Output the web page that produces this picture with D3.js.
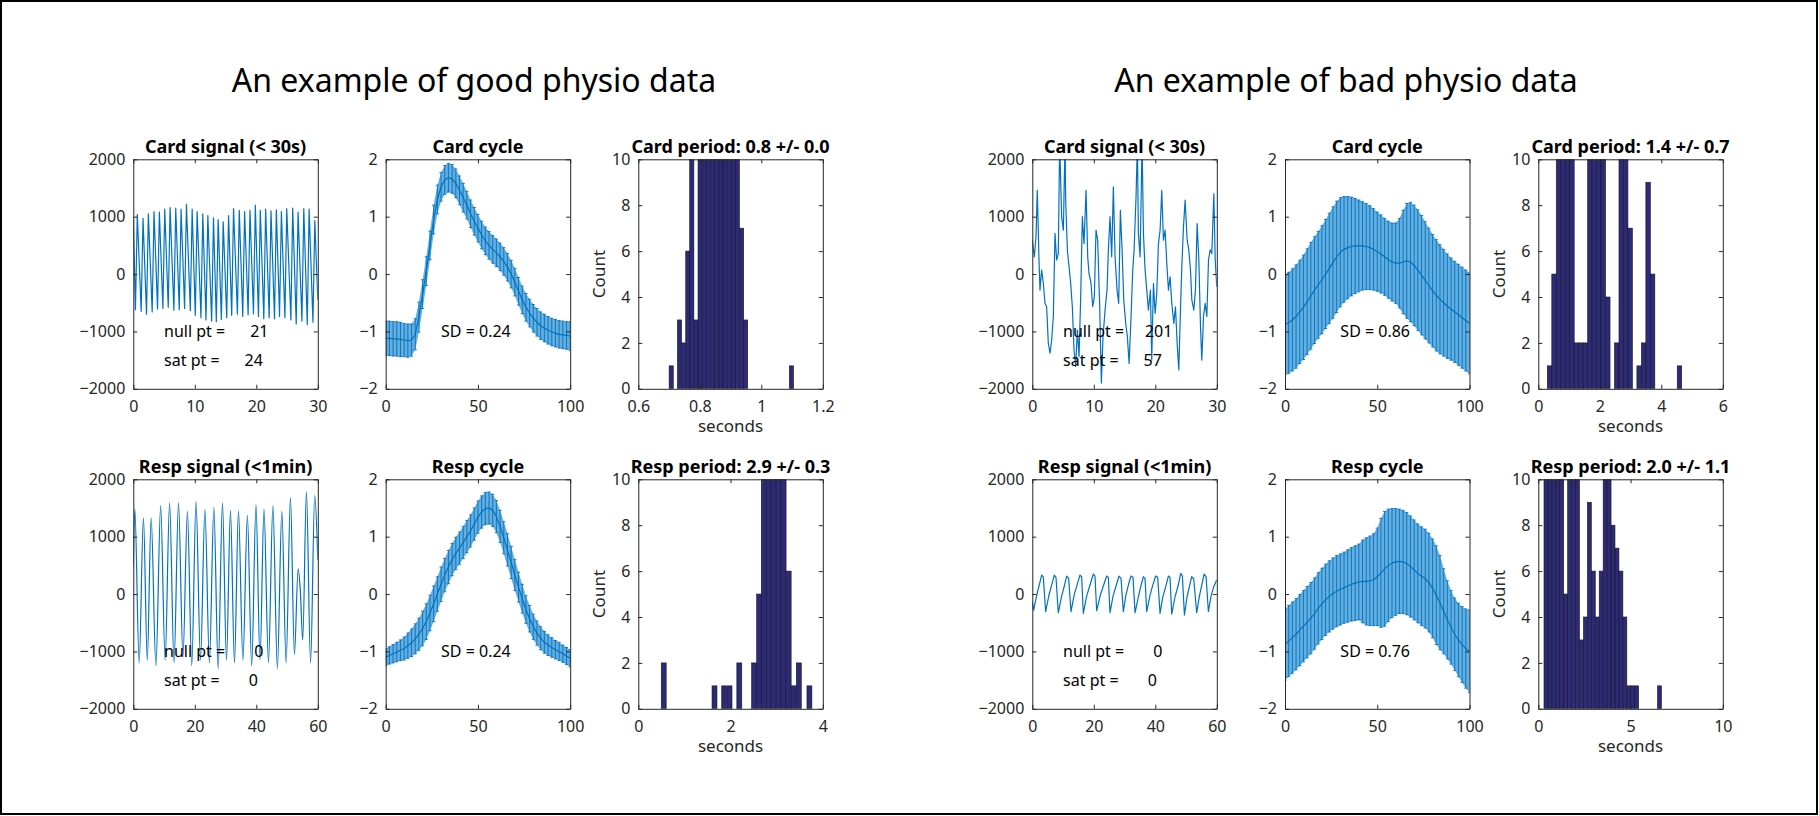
<!DOCTYPE html>
<html>
<head>
<meta charset="utf-8">
<script src="https://cdn.jsdelivr.net/npm/d3@7"></script>
<style>
  body { margin: 0; background: #fff; }
  text { font-family: "Noto Sans", sans-serif; }
</style>
</head>
<body>
<script>
// ---------- DATA ----------
// headings
var groupTitles = ["An example of good physio data", "An example of bad physio data"];
var panelTitles = {
  good: ["Card signal (< 30s)", "Card cycle", "Card period: 0.8 +/- 0.0",
         "Resp signal (<1min)", "Resp cycle", "Resp period: 2.9 +/- 0.3"],
  bad:  ["Card signal (< 30s)", "Card cycle", "Card period: 1.4 +/- 0.7",
         "Resp signal (<1min)", "Resp cycle", "Resp period: 2.0 +/- 1.1"]
};
// null / saturated point counts: [card, resp]
var goodNull = [21, 0], goodSat = [24, 0];
var badNull = [201, 0], badSat = [57, 0];
var cycleSD = { goodCard: "0.24", goodResp: "0.24", badCard: "0.86", badResp: "0.76" };

// tick values
var sigYTicks = [-2000, -1000, 0, 1000, 2000];
var cardXTicks = [0, 10, 20, 30];
var respXTicks = [0, 20, 40, 60];
var cycYTicks = [-2, -1, 0, 1, 2];
var cycXTicks = [0, 50, 100];
var histYTicks = [0, 2, 4, 6, 8, 10];
var goodCardHistTicks = [0.6, 0.8, 1, 1.2];
var goodRespHistTicks = [0, 2, 4];
var badCardHistTicks = [0, 2, 4, 6];
var badRespHistTicks = [0, 5, 10];

// raw signals: [time (s), value]
var goodCardSignal = [[0,950],[0.35,-620],[0.65,1040],[1.28,-650],[1.58,970],[2.15,-700],[2.45,1050],[3.07,-660],[3.37,1090],[3.94,-610],[4.24,1080],[4.81,-600],[5.11,1130],[5.68,-580],[5.98,1160],[6.6,-630],[6.9,1150],[7.47,-620],[7.77,1130],[8.34,-600],[8.64,1215],[9.27,-640],[9.57,1130],[10.08,-720],[10.38,1090],[11.0,-760],[11.3,1050],[11.82,-800],[12.12,1020],[12.74,-820],[13.04,980],[13.5,-830],[13.8,950],[14.32,-790],[14.62,910],[15.19,-760],[15.49,1020],[16.0,-720],[16.3,1140],[16.93,-700],[17.23,1110],[17.8,-740],[18.1,1090],[18.67,-710],[18.97,1110],[19.54,-690],[19.84,1200],[20.35,-740],[20.65,1110],[21.22,-780],[21.52,1130],[22.09,-760],[22.39,1100],[22.96,-780],[23.26,1120],[23.78,-740],[24.08,1090],[24.65,-760],[24.95,1140],[25.62,-800],[25.92,1150],[26.49,-870],[26.79,1080],[27.42,-820],[27.72,1140],[28.29,-880],[28.59,1130],[29.21,-840],[29.51,930],[30,-450]];

var goodRespSignal = [[0,480],[0.5,1480],[1.9,-1200],[3.3,1330],[4.55,-1150],[5.8,1330],[7.35,-1250],[8.9,1540],[10.35,-1150],[11.8,1590],[13.25,-1200],[14.7,1590],[16.15,-1100],[17.6,1440],[19.0,-1250],[20.4,1610],[21.85,-1150],[23.3,1470],[24.75,-1200],[26.2,1510],[27.6,-1300],[29.0,1590],[30.3,-1150],[31.6,1460],[32.9,-1200],[34.2,1450],[35.65,-1150],[37.1,1370],[38.5,-1250],[39.9,1560],[41.2,-1150],[42.5,1480],[43.95,-1200],[45.4,1540],[46.85,-1300],[48.3,1440],[49.7,-1200],[51.1,1680],[52.4,-1050],[53.6,440],[54.3,80],[55.1,-800],[56.3,1780],[57.65,-1200],[59.0,1720],[60,600]];

var badCardSignal = [[0,590],[0.33,300],[0.6,650],[0.81,1460],[1.09,245],[1.25,-280],[1.52,70],[1.79,-160],[2.06,-510],[2.33,-570],[2.6,-1200],[2.88,-1380],[3.15,-1150],[3.42,-740],[3.69,710],[3.96,245],[4.23,360],[4.45,2300],[4.77,1000],[5.05,765],[5.32,2300],[5.43,1290],[5.7,420],[5.97,130],[6.24,-160],[6.51,-570],[6.78,-1320],[7.05,-1610],[7.33,-975],[7.6,-1440],[7.87,-395],[8.14,1000],[8.41,530],[8.74,1460],[9.01,300],[9.22,10],[9.55,-160],[9.82,-570],[10.09,-395],[10.36,765],[10.63,590],[10.96,-570],[11.23,-1900],[11.5,-1090],[11.83,-630],[12.15,-280],[12.37,420],[12.64,1000],[12.91,300],[13.18,1520],[13.46,300],[13.78,-280],[14.05,-510],[14.32,1110],[14.6,420],[14.87,-450],[15.19,-860],[15.46,-1090],[15.74,-1560],[16.06,-740],[16.33,70],[16.55,420],[16.87,1350],[17.09,2300],[17.25,710],[17.53,300],[17.85,2300],[18.07,710],[18.34,70],[18.61,-280],[18.88,-630],[19.21,-280],[19.42,-1500],[19.7,-160],[19.97,-685],[20.24,-340],[20.51,530],[20.78,765],[21.05,1460],[21.32,590],[21.6,765],[21.87,185],[22.14,-280],[22.41,-50],[22.68,-510],[23.01,-860],[23.28,-570],[23.55,-1200],[23.82,-1670],[24.09,-630],[24.31,130],[24.58,820],[24.85,1290],[25.18,590],[25.45,420],[25.72,70],[25.94,-450],[26.26,-630],[26.53,-280],[26.8,880],[27.08,245],[27.35,-920],[27.56,-1500],[27.84,-740],[28.11,-510],[28.38,-740],[28.65,245],[28.92,420],[29.19,360],[29.52,1400],[29.74,245],[30,-225]];

var badRespSignal = [[0,-134],[0.43,-279],[1.52,0],[2.39,186],[3.04,331],[3.58,302],[4.34,-308],[5.42,-17],[6.29,157],[7.16,331],[7.7,291],[8.46,-326],[9.54,-35],[10.41,140],[11.17,314],[11.82,273],[12.58,-308],[13.67,0],[14.64,174],[15.51,331],[16.05,302],[16.59,-337],[17.68,-35],[18.76,157],[19.85,349],[20.39,314],[20.93,-291],[22.13,-17],[23.21,157],[24.19,314],[24.73,291],[25.27,-326],[26.25,-35],[27.22,140],[28.2,314],[28.85,273],[29.61,-308],[30.37,-35],[31.24,157],[32.1,314],[32.75,291],[33.41,-326],[34.49,-47],[35.25,128],[36.12,302],[36.66,273],[37.2,-308],[38.29,-23],[39.15,151],[40.13,314],[40.78,291],[41.54,-337],[42.41,-58],[43.38,128],[44.25,314],[44.79,291],[45.34,-349],[46.42,-47],[47.4,140],[48.26,360],[48.81,314],[49.46,-366],[50.33,-47],[51.08,128],[51.84,302],[52.49,267],[53.47,-326],[54.34,-35],[55.1,157],[55.86,349],[56.51,302],[57.27,-308],[58.13,-35],[59.0,128],[59.98,244]];

// cycle phase (% of cycle) and mean / sd of the normalised cycle
var cyclePhase = [0,2,4,6,8,10,12,14,16,18,20,22,24,26,28,30,32,34,36,38,40,42,44,46,48,50,52,54,56,58,60,62,64,66,68,70,72,74,76,78,80,82,84,86,88,90,92,94,96,98,100];

var goodCardMean = [-1.12,-1.12,-1.13,-1.13,-1.14,-1.15,-1.16,-1.15,-1.05,-0.75,-0.35,0.05,0.5,0.95,1.3,1.52,1.64,1.68,1.66,1.58,1.46,1.33,1.2,1.05,0.92,0.8,0.68,0.58,0.5,0.43,0.37,0.3,0.22,0.12,0.0,-0.14,-0.3,-0.45,-0.58,-0.68,-0.77,-0.84,-0.9,-0.94,-0.98,-1.01,-1.03,-1.05,-1.06,-1.07,-1.08];
var goodCardSd = [0.30,0.30,0.30,0.30,0.30,0.29,0.29,0.28,0.27,0.26,0.25,0.25,0.25,0.25,0.25,0.25,0.25,0.25,0.25,0.25,0.25,0.25,0.24,0.24,0.24,0.24,0.24,0.24,0.24,0.24,0.24,0.24,0.24,0.24,0.24,0.24,0.24,0.24,0.24,0.24,0.24,0.24,0.24,0.24,0.24,0.24,0.24,0.24,0.24,0.24,0.25];

var goodRespMean = [-1.1,-1.07,-1.04,-1.01,-0.98,-0.95,-0.9,-0.85,-0.78,-0.7,-0.6,-0.48,-0.33,-0.17,0.0,0.17,0.33,0.47,0.6,0.71,0.8,0.9,1.0,1.1,1.22,1.34,1.43,1.49,1.5,1.46,1.35,1.18,0.98,0.77,0.55,0.33,0.12,-0.08,-0.27,-0.43,-0.57,-0.68,-0.77,-0.84,-0.89,-0.93,-0.97,-1.0,-1.04,-1.08,-1.12];
var goodRespSd = [0.15,0.15,0.16,0.17,0.18,0.2,0.22,0.24,0.26,0.28,0.3,0.31,0.31,0.31,0.3,0.3,0.29,0.29,0.28,0.28,0.28,0.28,0.28,0.28,0.28,0.28,0.28,0.28,0.28,0.28,0.28,0.28,0.28,0.28,0.28,0.27,0.26,0.25,0.24,0.23,0.22,0.21,0.2,0.19,0.18,0.17,0.16,0.16,0.15,0.15,0.15];

var badCardMean = [-0.88,-0.85,-0.8,-0.74,-0.66,-0.58,-0.48,-0.38,-0.28,-0.19,-0.1,0.0,0.1,0.2,0.3,0.38,0.43,0.46,0.48,0.49,0.49,0.49,0.48,0.46,0.43,0.39,0.35,0.3,0.25,0.21,0.19,0.19,0.21,0.23,0.21,0.15,0.07,-0.02,-0.11,-0.2,-0.29,-0.37,-0.44,-0.5,-0.56,-0.61,-0.66,-0.71,-0.76,-0.81,-0.86];
var badCardSd = [0.87,0.88,0.89,0.9,0.9,0.91,0.92,0.93,0.93,0.93,0.94,0.95,0.96,0.97,0.97,0.95,0.92,0.89,0.86,0.83,0.8,0.77,0.75,0.73,0.71,0.69,0.68,0.67,0.67,0.68,0.7,0.78,0.9,1.0,1.04,1.05,1.05,1.04,1.02,1.0,0.98,0.97,0.95,0.93,0.91,0.89,0.88,0.88,0.88,0.88,0.88];

var badRespMean = [-0.88,-0.82,-0.76,-0.7,-0.63,-0.56,-0.49,-0.42,-0.34,-0.25,-0.17,-0.1,-0.04,0.01,0.05,0.08,0.11,0.14,0.17,0.19,0.21,0.22,0.22,0.23,0.25,0.3,0.37,0.44,0.5,0.54,0.56,0.57,0.56,0.53,0.48,0.42,0.36,0.31,0.27,0.2,0.1,-0.02,-0.15,-0.3,-0.45,-0.58,-0.7,-0.8,-0.88,-0.95,-1.0];
var badRespSd = [0.62,0.62,0.62,0.62,0.62,0.62,0.62,0.62,0.62,0.62,0.62,0.62,0.62,0.62,0.62,0.62,0.62,0.63,0.64,0.65,0.66,0.72,0.76,0.78,0.8,0.85,0.95,1.0,0.98,0.95,0.93,0.91,0.9,0.89,0.88,0.87,0.86,0.86,0.86,0.86,0.86,0.86,0.82,0.74,0.68,0.64,0.63,0.64,0.66,0.69,0.72];

// period histograms: bin centres (s), counts, bin width (s)
var goodCardBins = [0.707,0.720,0.734,0.747,0.761,0.774,0.788,0.801,0.815,0.828,0.842,0.855,0.869,0.882,0.896,0.909,0.922,0.936,0.949,1.098];
var goodCardCounts = [1,0,3,2,6,12,3,14,18,22,25,20,24,19,16,13,11,7,3,1];
var goodCardBinW = 0.0135;

var goodRespBins = [0.551,1.652,1.862,1.978,2.19,2.511,2.62,2.72,2.83,2.93,3.04,3.15,3.26,3.37,3.48,3.71];
var goodRespCounts = [2,1,1,1,2,2,5,12,15,17,14,11,6,1,2,1];
var goodRespBinW = 0.107;

var badCardBins = [0.366,0.512,0.657,0.803,0.949,1.094,1.240,1.386,1.531,1.677,1.823,1.968,2.114,2.260,2.551,2.697,2.842,2.988,3.280,3.425,3.571,3.717,4.591];
var badCardCounts = [1,5,14,20,17,12,2,2,2,11,15,13,11,4,2,12,11,7,1,2,9,5,1];
var badCardBinW = 0.1457;

var badRespBins = [0.415,0.629,0.843,1.056,1.270,1.484,1.698,1.912,2.125,2.339,2.553,2.767,2.981,3.194,3.408,3.622,3.836,4.049,4.263,4.477,4.691,4.905,5.118,5.332,6.57];
var badRespCounts = [12,15,13,11,12,5,14,12,11,3,4,9,6,4,6,11,10,8,7,6,4,1,1,1,1];
var badRespBinW = 0.2138;

// ---------- LAYOUT ----------
var W = 1819, H = 816;
var PW = 184.5, PH = 229.5;
var goodCols = [133.3, 385.7, 638.3];
var badCols = [1032.3, 1285, 1538.3];
var rows = [159.3, 479.3];
var BLUE = "#0072BD";
var AXIS = "#262626";
var FONT = "Noto Sans";
var fmt = d3.format("~g");
var clipCount = 0;

var svg = d3.select("body").append("svg")
  .attr("width", W)
  .attr("height", H);

svg.append("rect")
  .attr("width", W).attr("height", H)
  .attr("fill", "#fff");

// outer frame
svg.append("rect")
  .attr("x", 1).attr("y", 1)
  .attr("width", W - 3).attr("height", H - 3)
  .attr("fill", "none")
  .attr("stroke", "#000")
  .attr("stroke-width", 2);

// group headings
svg.append("text")
  .attr("x", 474).attr("y", 92)
  .attr("text-anchor", "middle")
  .attr("font-size", "32px")
  .attr("fill", "#000")
  .text(groupTitles[0]);
svg.append("text")
  .attr("x", 1346).attr("y", 92)
  .attr("text-anchor", "middle")
  .attr("font-size", "32px")
  .attr("fill", "#000")
  .text(groupTitles[1]);

// CREATE ONE AXES BOX
function makePanel(px, py, xDom, yDom) {
  var g = svg.append("g").attr("transform", "translate(" + px + "," + py + ")");
  var x = d3.scaleLinear().domain(xDom).range([0, PW]);
  var y = d3.scaleLinear().domain(yDom).range([PH, 0]);
  var id = "clip" + (clipCount++);
  g.append("clipPath").attr("id", id)
    .append("rect").attr("width", PW).attr("height", PH);
  var plot = g.append("g").attr("clip-path", "url(#" + id + ")");
  return { g: g, x: x, y: y, plot: plot };
}

function styleAxis(sel) {
  sel.attr("font-family", FONT).attr("font-size", 16);
  sel.selectAll("path, line").attr("stroke", AXIS).attr("stroke-width", 1);
  sel.selectAll("text").attr("fill", AXIS);
}

// MATLAB-like box: ticks inside on all four sides
function drawAxes(p, xTicks, yTicks, title) {
  p.g.append("g")
    .attr("transform", "translate(0," + PH + ")")
    .call(d3.axisBottom(p.x).tickValues(xTicks).tickSize(-4).tickSizeOuter(0).tickPadding(12).tickFormat(fmt))
    .call(styleAxis);
  p.g.append("g")
    .call(d3.axisTop(p.x).tickValues(xTicks).tickSize(-4).tickSizeOuter(0).tickFormat(""))
    .call(styleAxis);
  p.g.append("g")
    .call(d3.axisLeft(p.y).tickValues(yTicks).tickSize(-4).tickSizeOuter(0).tickPadding(8).tickFormat(fmt))
    .call(styleAxis);
  p.g.append("g")
    .attr("transform", "translate(" + PW + ",0)")
    .call(d3.axisRight(p.y).tickValues(yTicks).tickSize(-4).tickSizeOuter(0).tickFormat(""))
    .call(styleAxis);

  p.g.append("text")
    .attr("x", PW / 2).attr("y", -6)
    .attr("text-anchor", "middle")
    .attr("font-size", "18px")
    .attr("font-weight", "bold")
    .attr("fill", "#000")
    .text(title);
}

function signalPanel(px, py, data, xDom, xTicks, title, nNull, nSat, curve) {
  var p = makePanel(px, py, xDom, [-2000, 2000]);
  var line = d3.line()
    .x(function (d) { return p.x(d[0]); })
    .y(function (d) { return p.y(d[1]); })
    .curve(curve);
  p.plot.append("path")
    .datum(data)
    .attr("d", line)
    .attr("fill", "none")
    .attr("stroke", BLUE)
    .attr("stroke-width", 1.2)
    .attr("stroke-linejoin", "round");
  drawAxes(p, xTicks, sigYTicks, title);

  p.g.append("text")
    .attr("x", p.x(xDom[1] / 6)).attr("y", p.y(-1000))
    .attr("dominant-baseline", "central")
    .attr("font-size", "16px")
    .attr("fill", "#000")
    .style("white-space", "pre")
    .text("null pt = " + String(nNull).padStart(7, " "));
  p.g.append("text")
    .attr("x", p.x(xDom[1] / 6)).attr("y", p.y(-1500))
    .attr("dominant-baseline", "central")
    .attr("font-size", "16px")
    .attr("fill", "#000")
    .style("white-space", "pre")
    .text("sat pt = " + String(nSat).padStart(7, " "));
}

function cyclePanel(px, py, mean, sd, title, sdText) {
  var p = makePanel(px, py, [0, 100], [-2, 2]);
  var band = d3.area()
    .x(function (d, i) { return p.x(cyclePhase[i]); })
    .y0(function (d, i) { return p.y(mean[i] - sd[i]); })
    .y1(function (d, i) { return p.y(mean[i] + sd[i]); });
  p.plot.append("path")
    .datum(mean)
    .attr("d", band)
    .attr("fill", "#64aee0");

  var bars = p.plot.append("g")
    .attr("stroke", BLUE)
    .attr("stroke-width", 0.9);
  mean.forEach(function (m, i) {
    var cx = p.x(cyclePhase[i]);
    var lo = p.y(m - sd[i]), hi = p.y(m + sd[i]);
    bars.append("line").attr("x1", cx).attr("x2", cx).attr("y1", lo).attr("y2", hi);
    bars.append("line").attr("x1", cx - 1.6).attr("x2", cx + 1.6).attr("y1", lo).attr("y2", lo);
    bars.append("line").attr("x1", cx - 1.6).attr("x2", cx + 1.6).attr("y1", hi).attr("y2", hi);
  });

  var line = d3.line()
    .x(function (d, i) { return p.x(cyclePhase[i]); })
    .y(function (d) { return p.y(d); });
  p.plot.append("path")
    .datum(mean)
    .attr("d", line)
    .attr("fill", "none")
    .attr("stroke", BLUE)
    .attr("stroke-width", 1.2);

  drawAxes(p, cycXTicks, cycYTicks, title);

  p.g.append("text")
    .attr("x", p.x(30)).attr("y", p.y(-1))
    .attr("dominant-baseline", "central")
    .attr("font-size", "16px")
    .attr("fill", "#000")
    .text("SD = " + sdText);
}

function histPanel(px, py, bins, counts, binW, xDom, xTicks, title) {
  var p = makePanel(px, py, xDom, [0, 10]);
  p.plot.selectAll("rect")
    .data(bins)
    .enter()
    .append("rect")
    .attr("x", function (d) { return p.x(d - binW / 2); })
    .attr("width", function (d) { return p.x(d + binW / 2) - p.x(d - binW / 2); })
    .attr("y", function (d, i) { return p.y(counts[i]); })
    .attr("height", function (d, i) { return p.y(0) - p.y(counts[i]); })
    .attr("fill", "#2d2b74")
    .attr("stroke", "#14142e")
    .attr("stroke-width", 0.6);
  drawAxes(p, xTicks, histYTicks, title);

  p.g.append("text")
    .attr("transform", "translate(-40," + (PH / 2) + ") rotate(-90)")
    .attr("text-anchor", "middle")
    .attr("dominant-baseline", "central")
    .attr("font-size", "17px")
    .attr("fill", AXIS)
    .text("Count");
  p.g.append("text")
    .attr("x", PW / 2).attr("y", PH + 43)
    .attr("text-anchor", "middle")
    .attr("font-size", "17px")
    .attr("fill", AXIS)
    .text("seconds");
}

// ---------- GOOD DATA ----------
signalPanel(goodCols[0], rows[0], goodCardSignal, [0, 30], cardXTicks, panelTitles.good[0], goodNull[0], goodSat[0], d3.curveLinear);
cyclePanel(goodCols[1], rows[0], goodCardMean, goodCardSd, panelTitles.good[1], cycleSD.goodCard);
histPanel(goodCols[2], rows[0], goodCardBins, goodCardCounts, goodCardBinW, [0.6, 1.2], goodCardHistTicks, panelTitles.good[2]);

signalPanel(goodCols[0], rows[1], goodRespSignal, [0, 60], respXTicks, panelTitles.good[3], goodNull[1], goodSat[1], d3.curveMonotoneX);
cyclePanel(goodCols[1], rows[1], goodRespMean, goodRespSd, panelTitles.good[4], cycleSD.goodResp);
histPanel(goodCols[2], rows[1], goodRespBins, goodRespCounts, goodRespBinW, [0, 4], goodRespHistTicks, panelTitles.good[5]);

// ---------- BAD DATA ----------
signalPanel(badCols[0], rows[0], badCardSignal, [0, 30], cardXTicks, panelTitles.bad[0], badNull[0], badSat[0], d3.curveLinear);
cyclePanel(badCols[1], rows[0], badCardMean, badCardSd, panelTitles.bad[1], cycleSD.badCard);
histPanel(badCols[2], rows[0], badCardBins, badCardCounts, badCardBinW, [0, 6], badCardHistTicks, panelTitles.bad[2]);

signalPanel(badCols[0], rows[1], badRespSignal, [0, 60], respXTicks, panelTitles.bad[3], badNull[1], badSat[1], d3.curveLinear);
cyclePanel(badCols[1], rows[1], badRespMean, badRespSd, panelTitles.bad[4], cycleSD.badResp);
histPanel(badCols[2], rows[1], badRespBins, badRespCounts, badRespBinW, [0, 10], badRespHistTicks, panelTitles.bad[5]);
</script>
</body>
</html>
